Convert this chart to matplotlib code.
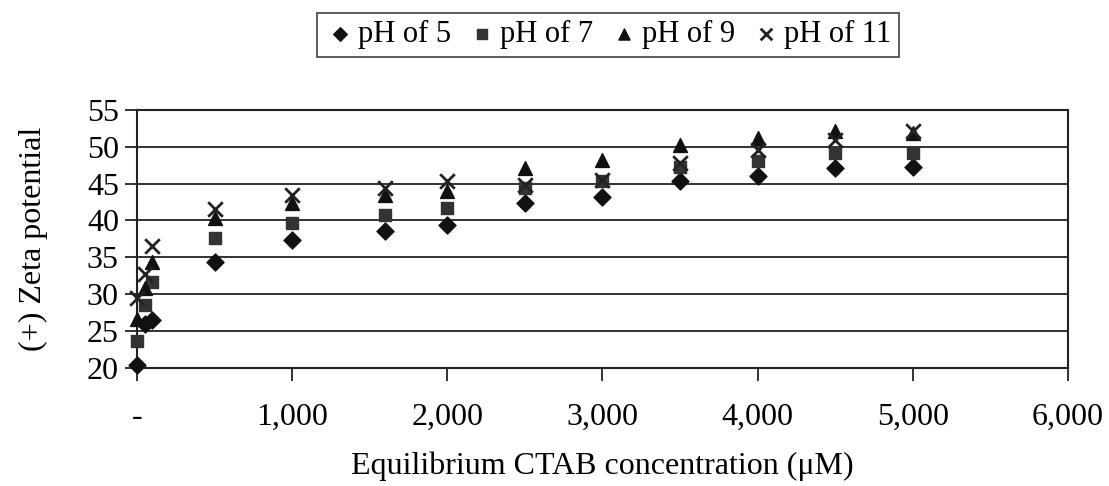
import matplotlib
matplotlib.use("Agg")
import matplotlib.pyplot as plt
from matplotlib.ticker import FixedLocator

conc = [0, 50, 100, 500, 1000, 1600, 2000, 2500, 3000, 3500, 4000, 4500, 5000]
ph5 = [20.4, 26.0, 26.5, 34.4, 37.4, 38.5, 39.4, 42.3, 43.2, 45.3, 46.0, 47.1, 47.3]
ph7 = [23.6, 28.5, 31.7, 37.6, 39.6, 40.8, 41.7, 44.4, 45.3, 47.3, 48.0, 49.1, 49.1]
ph9 = [26.6, 30.8, 34.4, 40.3, 42.3, 43.5, 44.0, 47.1, 48.2, 50.2, 51.2, 52.1, 51.8]
ph11 = [29.5, 32.8, 36.6, 41.5, 43.4, 44.4, 45.3, 44.8, 45.5, 47.8, 49.6, 50.9, 52.1]
labels = ["pH of 5", "pH of 7", "pH of 9", "pH of 11"]
xticks = [0, 1000, 2000, 3000, 4000, 5000, 6000]
xticklabels = ["-", "1,000", "2,000", "3,000", "4,000", "5,000", "6,000"]
yticks = [20, 25, 30, 35, 40, 45, 50, 55]

plt.rcParams['font.family'] = ['Liberation Serif', 'DejaVu Serif']
FS = 23
fig = plt.figure(figsize=(11.09, 4.86), dpi=100)
ax = fig.add_axes([0.1235, 0.243, 0.963 - 0.1235, 0.774 - 0.243])

for v in yticks:
    ax.axhline(v, color='#222222', lw=1.3, zorder=1)

kw = dict(zorder=3, clip_on=False)
h1 = ax.scatter(conc, ph5, marker='D', s=75, color='#111111', label=labels[0], **kw)
h2 = ax.scatter(conc, ph7, marker='s', s=85, color='#333333', label=labels[1], **kw)
h3 = ax.scatter(conc, ph9, marker='^', s=100, color='#111111', label=labels[2], **kw)
h4 = ax.scatter(conc, ph11, marker='x', s=110, color='#222222', linewidths=2,
                label=labels[3], zorder=4, clip_on=False)

ax.set_xlim(0, 6000)
ax.set_ylim(20, 55)
ax.xaxis.set_major_locator(FixedLocator(xticks))
ax.set_xticklabels(xticklabels, fontsize=FS)
ax.set_yticks(yticks)
ax.set_yticklabels([str(v) for v in yticks], fontsize=FS)
ax.tick_params(axis='both', direction='out', length=9, width=1.3, color='#222222')
ax.tick_params(axis='x', pad=16)
ax.tick_params(axis='y', pad=4)
for s in ax.spines.values():
    s.set_linewidth(1.5)
    s.set_color('#222222')

ax.set_xlabel("Equilibrium CTAB concentration (\u03bcM)", fontsize=FS, labelpad=14)
ax.set_ylabel("(+) Zeta potential", fontsize=FS, labelpad=28)

leg = fig.legend(handles=[h1, h2, h3, h4], loc='center', bbox_to_anchor=(0.548, 0.928),
                 ncol=4, fontsize=22, frameon=True, fancybox=False, edgecolor='#222222',
                 handletextpad=0.1, columnspacing=0.5, borderpad=0.25, handlelength=1.0,
                 markerscale=0.8)
leg.get_frame().set_linewidth(1.3)

fig.savefig("out.png", dpi=100)
